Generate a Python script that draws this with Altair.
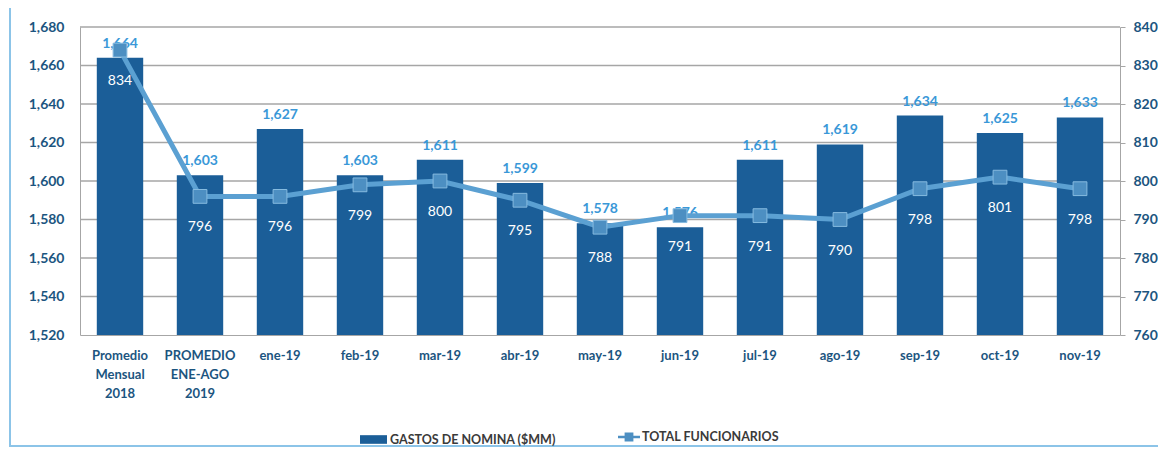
import altair as alt
import pandas as pd

categories = ["Promedio\nMensual\n2018", "PROMEDIO\nENE-AGO\n2019", "ene-19", "feb-19", "mar-19",
              "abr-19", "may-19", "jun-19", "jul-19", "ago-19", "sep-19", "oct-19", "nov-19"]
gastos = [1664, 1603, 1627, 1603, 1611, 1599, 1578, 1576, 1611, 1619, 1634, 1625, 1633]
funcionarios = [834, 796, 796, 799, 800, 795, 788, 791, 791, 790, 798, 801, 798]
left_ticks = [1520, 1540, 1560, 1580, 1600, 1620, 1640, 1660, 1680]
right_ticks = [760, 770, 780, 790, 800, 810, 820, 830, 840]
series_bar = "GASTOS DE NOMINA ($MM)"
series_line = "TOTAL FUNCIONARIOS"

df = pd.DataFrame({"cat": categories, "gastos": gastos, "func": funcionarios,
                   "s1": series_bar, "s2": series_line})
grid_df = pd.DataFrame({"t": left_ticks[1:]})

FONT = "Lato"
AXIS_COLOR = "#1c557f"
BAR_COLOR = "#1b5e98"
LINE_COLOR = "#5ba0d2"
GRID = "#a6a6a6"

x_enc = alt.X("cat:N", sort=categories,
              scale=alt.Scale(paddingInner=0.42, paddingOuter=0.21),
              axis=alt.Axis(title=None, labelAngle=0, labelExpr="split(datum.label, '\\n')",
                            labelFont=FONT, labelFontSize=13, labelFontWeight="bold",
                            labelColor=AXIS_COLOR, labelPadding=14, labelLineHeight=19,
                            labelBaseline="top", domainColor=GRID, ticks=False, grid=False))

yl_scale = alt.Scale(domain=[1520, 1680], zero=False, nice=False)
yl_enc = alt.Y("gastos:Q", scale=yl_scale,
               axis=alt.Axis(title=None, values=left_ticks, format=",.0f", labelFont=FONT,
                             labelFontSize=14, labelFontWeight="bold", labelColor=AXIS_COLOR,
                             labelPadding=16, ticks=False, domainColor=GRID, grid=False))

yr_enc = alt.Y("func:Q", scale=alt.Scale(domain=[760, 840], zero=False, nice=False),
               axis=alt.Axis(title=None, orient="right", values=right_ticks, labelFont=FONT,
                             labelFontSize=14, labelFontWeight="bold", labelColor=AXIS_COLOR,
                             labelPadding=8, ticks=True, tickSize=5, tickColor=GRID,
                             domainColor=GRID, grid=False))

gridlines = alt.Chart(grid_df).mark_rule(color=GRID, strokeWidth=1.5).encode(
    x=alt.value(0), x2=alt.value(1040),
    y=alt.Y("t:Q", scale=yl_scale, axis=None))

base_l = alt.Chart(df).encode(x=x_enc, y=yl_enc)
bars = base_l.mark_bar(color=BAR_COLOR).encode(
    y2=alt.datum(1520),
    color=alt.Color("s1:N", scale=alt.Scale(range=[BAR_COLOR]),
                    legend=alt.Legend(title=None, orient="none", legendX=280, legendY=399,
                                      symbolType="M-1,-0.32H1V0.32H-1Z", symbolSize=729,
                                      symbolStrokeWidth=0, labelFont=FONT, labelFontSize=12.5,
                                      labelFontWeight="bold", labelColor="#3a3a3a",
                                      labelOffset=3, labelLimit=400)))
bar_labels = base_l.mark_text(baseline="bottom", dy=-7, font=FONT, fontSize=14,
                              fontWeight="bold", color="#3a98d8").encode(
    text=alt.Text("gastos:Q", format=",.0f"))
left = alt.layer(bars, bar_labels)

base_r = alt.Chart(df).encode(x=x_enc, y=yr_enc)
line = base_r.mark_line(color=LINE_COLOR, strokeWidth=5)
points = base_r.mark_square(size=190, opacity=1, stroke="#86bbe0", strokeWidth=1).encode(
    fill=alt.Fill("s2:N", scale=alt.Scale(range=["#4d8fc2"]),
                  legend=alt.Legend(title=None, orient="none", legendX=538, legendY=399,
                                    symbolType="M-1,-0.12H1V0.12H-1Z M-0.4,-0.4H0.4V0.4H-0.4Z",
                                    symbolSize=484, symbolStrokeWidth=0, labelFont=FONT,
                                    labelFontSize=12.5, labelFontWeight="bold",
                                    labelColor="#3a3a3a", labelOffset=2, labelLimit=400)))
line_labels = base_r.mark_text(baseline="top", dy=24, font=FONT, fontSize=14,
                               color="white").encode(text="func:Q")
right = alt.layer(line, points, line_labels)

frame = alt.Chart(pd.DataFrame({"f": [0]})).mark_rect(
    fill=None, stroke="#8cc4e8", strokeWidth=2).encode(
    x=alt.value(-70), x2=alt.value(1090), y=alt.value(-20), y2=alt.value(419))

chart = alt.layer(gridlines, left, right, frame).resolve_scale(
    y="independent", color="independent", fill="independent"
).properties(
    width=1040, height=308,
    autosize=alt.AutoSizeParams(type="none"),
    padding={"left": 72, "top": 19, "right": 38, "bottom": 113},
    background="white",
).configure_view(strokeWidth=0)

chart.save("out.html", embed_options={"renderer": "svg", "actions": False})
